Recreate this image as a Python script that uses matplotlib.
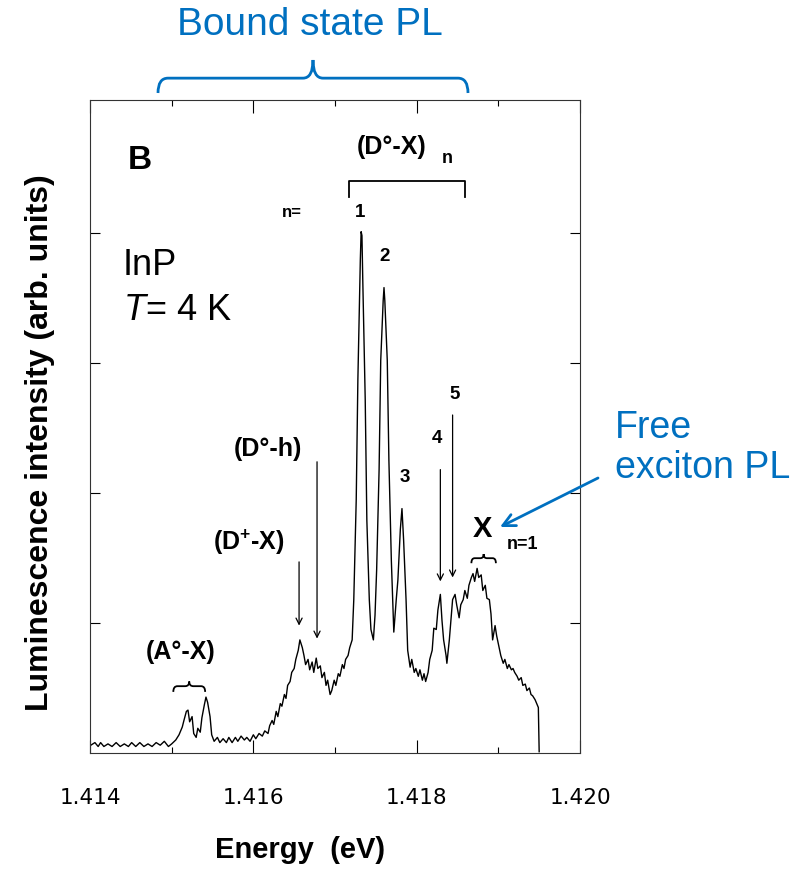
import matplotlib
matplotlib.use("Agg")
import matplotlib.pyplot as plt
from matplotlib.path import Path
from matplotlib.patches import PathPatch
from matplotlib.transforms import Affine2D

plt.rcParams['font.family'] = ['Liberation Sans', 'DejaVu Sans']
plt.rcParams['mathtext.fontset'] = 'custom'
plt.rcParams['mathtext.it'] = 'Liberation Sans:italic'
plt.rcParams['mathtext.rm'] = 'Liberation Sans:bold'
plt.rcParams['mathtext.bf'] = 'Liberation Sans:bold'

BLUE = '#0070C0'

# PL spectrum of InP at 4 K
energy = [
    1.41401, 1.41406, 1.41410, 1.41413, 1.41417, 1.41422, 1.41427, 1.41432, 1.41437, 1.41442,
    1.41447, 1.41451, 1.41456, 1.41461, 1.41466, 1.41471, 1.41476, 1.41481, 1.41486, 1.41491,
    1.41496, 1.41500, 1.41505, 1.41509, 1.41513, 1.41515, 1.41518, 1.41520, 1.41522, 1.41525,
    1.41527, 1.41530, 1.41532, 1.41535, 1.41537, 1.41540, 1.41542, 1.41544, 1.41547, 1.41549,
    1.41552, 1.41556, 1.41559, 1.41563, 1.41567, 1.41570, 1.41574, 1.41578, 1.41581, 1.41585,
    1.41589, 1.41592, 1.41596, 1.41600, 1.41603, 1.41607, 1.41611, 1.41614, 1.41618, 1.41620,
    1.41623, 1.41625, 1.41628, 1.41630, 1.41633, 1.41635, 1.41638, 1.41640, 1.41642, 1.41645,
    1.41647, 1.41650, 1.41652, 1.41655, 1.41657, 1.41660, 1.41662, 1.41664, 1.41667, 1.41669,
    1.41672, 1.41674, 1.41677, 1.41679, 1.41682, 1.41684, 1.41687, 1.41689, 1.41691, 1.41694,
    1.41696, 1.41699, 1.41701, 1.41704, 1.41706, 1.41709, 1.41711, 1.41713, 1.41716, 1.41718,
    1.41721, 1.41723, 1.41726, 1.41728, 1.41731, 1.41732, 1.41733, 1.41734, 1.41737, 1.41739,
    1.41742, 1.41744, 1.41747, 1.41749, 1.41751, 1.41754, 1.41756, 1.41759, 1.41760, 1.41761,
    1.41764, 1.41766, 1.41769, 1.41771, 1.41772, 1.41775, 1.41777, 1.41780, 1.41782, 1.41784,
    1.41787, 1.41789, 1.41792, 1.41794, 1.41797, 1.41799, 1.41802, 1.41804, 1.41807, 1.41809,
    1.41811, 1.41814, 1.41816, 1.41819, 1.41821, 1.41824, 1.41826, 1.41829, 1.41831, 1.41833,
    1.41836, 1.41837, 1.41840, 1.41842, 1.41844, 1.41847, 1.41849, 1.41852, 1.41854, 1.41857,
    1.41859, 1.41862, 1.41864, 1.41867, 1.41869, 1.41871, 1.41874, 1.41876, 1.41879, 1.41881,
    1.41884, 1.41886, 1.41889, 1.41891, 1.41893, 1.41896, 1.41898, 1.41901, 1.41903, 1.41906,
    1.41908, 1.41911, 1.41913, 1.41916, 1.41918, 1.41920, 1.41923, 1.41925, 1.41928, 1.41930,
    1.41933, 1.41935, 1.41938, 1.41940, 1.41942, 1.41945, 1.41947, 1.41949, 1.41950,
]
intensity = [
    0.06, 0.08, 0.05, 0.08, 0.05, 0.07, 0.05, 0.08, 0.05, 0.07,
    0.05, 0.08, 0.05, 0.08, 0.05, 0.07, 0.05, 0.08, 0.06, 0.09,
    0.05, 0.07, 0.10, 0.14, 0.20, 0.25, 0.32, 0.33, 0.24, 0.28,
    0.15, 0.12, 0.19, 0.16, 0.27, 0.37, 0.43, 0.39, 0.28, 0.14,
    0.09, 0.12, 0.08, 0.11, 0.08, 0.12, 0.08, 0.12, 0.09, 0.13,
    0.10, 0.12, 0.09, 0.14, 0.11, 0.15, 0.13, 0.17, 0.15, 0.21,
    0.25, 0.22, 0.32, 0.28, 0.38, 0.36, 0.45, 0.42, 0.52, 0.55,
    0.62, 0.65, 0.72, 0.79, 0.87, 0.81, 0.75, 0.68, 0.72, 0.64,
    0.70, 0.62, 0.73, 0.65, 0.67, 0.58, 0.62, 0.52, 0.56, 0.45,
    0.48, 0.56, 0.52, 0.61, 0.59, 0.68, 0.65, 0.72, 0.75, 0.81,
    0.87, 1.18, 1.95, 2.87, 3.79, 4.01, 3.98, 3.64, 2.72, 1.79,
    1.18, 0.95, 0.87, 1.06, 1.41, 2.18, 3.02, 3.48, 3.58, 3.48,
    3.02, 2.25, 1.48, 1.10, 0.93, 1.18, 1.33, 1.72, 1.88, 1.64,
    1.18, 0.79, 0.66, 0.72, 0.62, 0.65, 0.59, 0.64, 0.56, 0.61,
    0.55, 0.62, 0.72, 0.79, 0.96, 0.95, 1.10, 1.22, 1.02, 0.87,
    0.75, 0.69, 0.87, 1.02, 1.18, 1.22, 1.14, 1.04, 1.14, 1.18,
    1.25, 1.19, 1.29, 1.35, 1.38, 1.32, 1.42, 1.35, 1.37, 1.25,
    1.29, 1.19, 1.18, 1.07, 0.87, 0.98, 0.90, 0.81, 0.75, 0.69,
    0.72, 0.65, 0.68, 0.64, 0.65, 0.62, 0.59, 0.56, 0.58, 0.52,
    0.53, 0.48, 0.50, 0.45, 0.44, 0.41, 0.38, 0.35, 0.01,
]

xticks = [1.414, 1.416, 1.418, 1.420]
xtick_labels = ['1.414', '1.416', '1.418', '1.420']
xminor = [1.415, 1.417, 1.419]
yticks = [1, 2, 3, 4]

# (D0-X)n series labels
peak_names = ['1', '2', '3', '4', '5']
peak_label_x = [1.41731, 1.41761, 1.41786, 1.41825, 1.41846]
peak_label_y = [4.16, 3.82, 2.12, 2.42, 2.76]


def brace(ax, x0, x1, y, h, r, k, transform, **kw):
    xm = (x0 + x1) / 2
    yl = y + h * k
    verts = [(x0, y), (x0, yl), (x0 + r, yl), (xm - r, yl), (xm, yl), (xm, y + h),
             (xm, yl), (xm + r, yl), (x1 - r, yl), (x1, yl), (x1, y)]
    codes = [Path.MOVETO, Path.CURVE3, Path.CURVE3, Path.LINETO, Path.CURVE3, Path.CURVE3,
             Path.CURVE3, Path.CURVE3, Path.LINETO, Path.CURVE3, Path.CURVE3]
    p = PathPatch(Path(verts, codes), fill=False, transform=transform, clip_on=False, **kw)
    ax.add_artist(p)


fig = plt.figure(figsize=(8.03, 8.76), dpi=100)
ax = fig.add_axes([90 / 803, 1 - 753 / 876, 490 / 803, 653 / 876])
pix = Affine2D().scale(1 / 803, -1 / 876).translate(0, 1) + fig.transFigure

ax.plot(energy, intensity, color='black', lw=1.0)

ax.set_xlim(1.414, 1.420)
ax.set_ylim(0, 5.023)
ax.set_xticks(xticks)
ax.set_xticklabels(xtick_labels, fontfamily='DejaVu Sans')
ax.set_xticks(xminor, minor=True)
ax.set_yticks(yticks)
ax.tick_params(axis='x', which='major', direction='in', length=9.5, width=0.8,
               top=True, pad=25, labelsize=15.5)
ax.tick_params(axis='x', which='minor', direction='in', length=4, width=0.8, top=True)
ax.tick_params(axis='y', direction='in', length=7, width=0.8, right=True, labelleft=False)
for s in ax.spines.values():
    s.set_color('#333333')
    s.set_linewidth(0.8)

fig.text(40, 443, 'Luminescence intensity (arb. units)', transform=pix, rotation=90,
         fontsize=23, fontweight='bold', ha='center', va='center')
fig.text(300, 858, 'Energy  (eV)', transform=pix, fontsize=21, fontweight='bold',
         ha='center', va='baseline')

# labels inside the axes
ax.text(1.41461, 4.56, 'B', fontsize=24, fontweight='bold', ha='center', va='center')
ax.text(1.41440, 3.68, 'InP', fontsize=26, va='baseline')
ax.text(1.41440, 3.33, r'$T$= 4 K', fontsize=26, va='baseline')

ax.text(1.41769, 4.66, '(D°-X)', fontsize=18, fontweight='bold', ha='center', va='center')
ax.text(1.41838, 4.57, 'n', fontsize=13, fontweight='bold', ha='center', va='center')
ax.plot([1.41717, 1.41717, 1.41859, 1.41859], [4.28, 4.40, 4.40, 4.28], color='black', lw=1.3)
ax.text(1.41647, 4.16, 'n=', fontsize=12, fontweight='bold', ha='center', va='center')
for name, px_, py_ in zip(peak_names, peak_label_x, peak_label_y):
    ax.text(px_, py_, name, fontsize=13.5, fontweight='bold', ha='center', va='center')

arrow = dict(arrowstyle='->', lw=0.9, color='black', shrinkA=0, shrinkB=0, mutation_scale=11)
ax.annotate('', xy=(1.41829, 1.32), xytext=(1.41829, 2.18), arrowprops=arrow)
ax.annotate('', xy=(1.41844, 1.35), xytext=(1.41844, 2.60), arrowprops=arrow)
ax.annotate('', xy=(1.41678, 0.88), xytext=(1.41678, 2.24), arrowprops=arrow)
ax.annotate('', xy=(1.41656, 0.98), xytext=(1.41656, 1.47), arrowprops=arrow)

ax.text(1.41618, 2.34, '(D°-h)', fontsize=18, fontweight='bold', ha='center', va='center')
ax.text(1.41595, 1.62, r'(D$^{+}$-X)', fontsize=18, fontweight='bold', ha='center', va='center')
ax.text(1.41511, 0.78, '(A°-X)', fontsize=18, fontweight='bold', ha='center', va='center')
brace(ax, 1.41502, 1.41541, 0.47, 0.08, 0.00005, 0.55, ax.transData, color='black', lw=1.3)

ax.text(1.41881, 1.72, 'X', fontsize=21, fontweight='bold', ha='center', va='center')
ax.text(1.41930, 1.60, 'n=1', fontsize=13, fontweight='bold', ha='center', va='center')
brace(ax, 1.41867, 1.41897, 1.46, 0.07, 0.00004, 0.55, ax.transData, color='black', lw=1.3)

# blue overlay annotations
brace(ax, 158, 468, 93, -33, 10, 0.45, pix, color=BLUE, lw=2.0)
fig.text(310, 25, 'Bound state PL', transform=pix, fontsize=28, color=BLUE,
         ha='center', va='center')
fig.text(615, 410, 'Free\nexciton PL', transform=pix, fontsize=27, color=BLUE,
         ha='left', va='top', linespacing=1.15)
ax.annotate('', xy=(500, 527), xycoords=pix, xytext=(598, 478), textcoords=pix,
            arrowprops=dict(arrowstyle='->', lw=2.0, color=BLUE, shrinkA=0, shrinkB=0,
                            mutation_scale=22), annotation_clip=False)

fig.savefig('out.png', dpi=100)
